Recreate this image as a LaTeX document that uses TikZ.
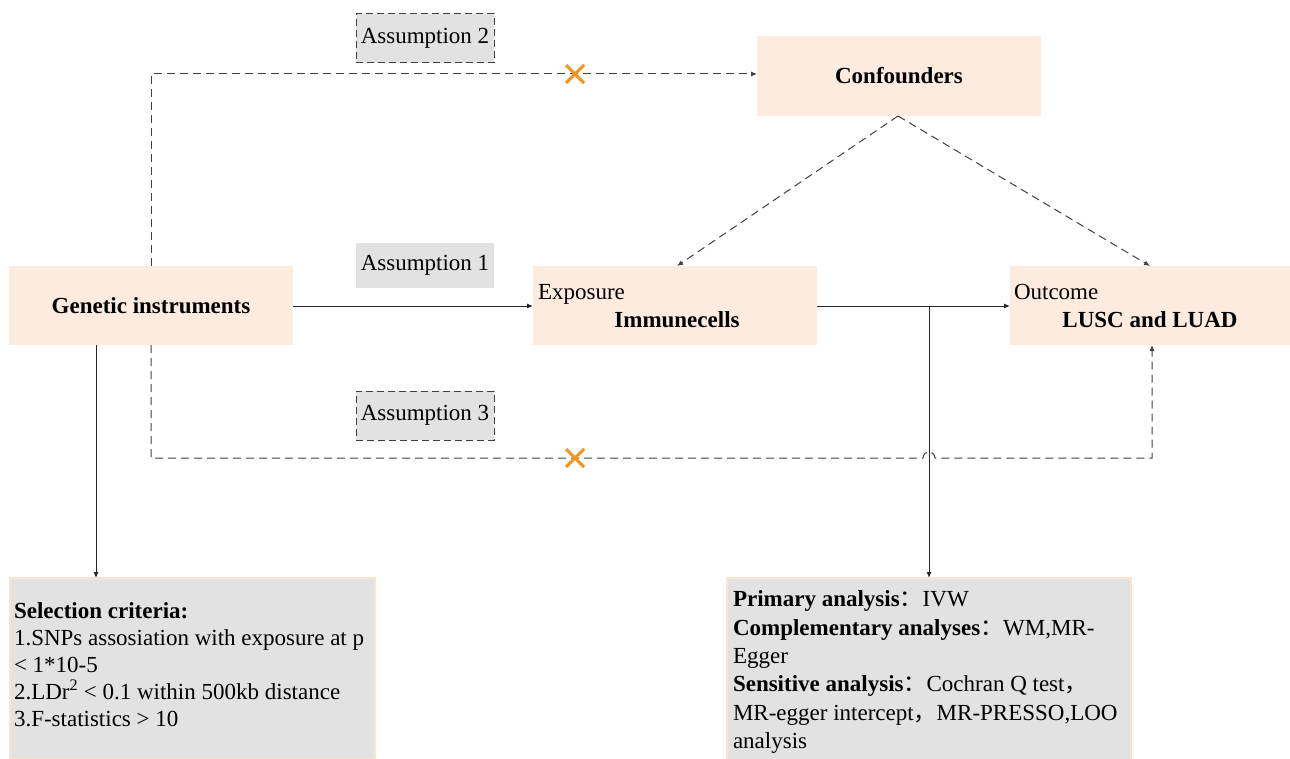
\documentclass[tikz,border=0pt]{standalone}
\usepackage{fontspec}
\setmainfont{Liberation Serif}
\newfontfamily\cjk{Noto Sans CJK SC}
\usetikzlibrary{arrows.meta}
\definecolor{peach}{HTML}{FDEBE0}
\definecolor{peachline}{HTML}{FBE3D3}
\definecolor{boxgray}{HTML}{E2E2E2}
\definecolor{dashgray}{HTML}{404040}
\definecolor{xorange}{HTML}{F7931E}
\begin{document}
\begin{tikzpicture}[x=1pt,y=-1pt,
  every node/.style={font=\fontsize{23}{26}\selectfont, inner sep=0pt, outer sep=0pt},
  peachbox/.style={fill=peach, draw=none, anchor=north west},
  assumebox/.style={fill=boxgray, anchor=north west, minimum width=138pt, minimum height=49pt},
  dashbox/.style={assumebox, draw=dashgray, line width=1pt, dash pattern=on 7pt off 4pt},
  infobox/.style={fill=boxgray, draw=peachline, line width=1.5pt, anchor=north west},
  conn/.style={draw=black!85, line width=1pt, -{Latex[length=6pt,width=5pt]}},
  dconn/.style={draw=dashgray, line width=1pt, dash pattern=on 8pt off 5pt, -{Latex[length=6pt,width=5pt]}},
  cross/.style={draw=xorange, line width=3pt}]
\useasboundingbox (0,0) rectangle (1290,759);

% main boxes
\node[peachbox, minimum width=284pt, minimum height=79pt] (gen) at (9,266) {\bfseries Genetic instruments};
\node[peachbox, minimum width=284pt, minimum height=79pt] (exp) at (533,266) {};
\node[peachbox, minimum width=280pt, minimum height=79pt] (out) at (1010,266) {};
\node[peachbox, minimum width=284pt, minimum height=80pt] (conf) at (757,36) {\bfseries Confounders};

\node[anchor=base west] (expl) at (538,299) {Exposure};
\node[anchor=base] (expt) at (677,327) {\bfseries Immunecells};
\node[anchor=base west] (outl) at (1014,299) {Outcome};
\node[anchor=base] (outt) at (1150,327) {\bfseries LUSC and LUAD};

% assumption boxes
\node[dashbox] (a2) at (356,14) {Assumption 2};
\node[assumebox, minimum height=45pt] (a1) at (356,243) {Assumption 1};
\node[dashbox] (a3) at (356,391) {Assumption 3};

% info boxes
\node[infobox, minimum width=365pt, minimum height=181pt] (sel) at (10,578) {};
\node[anchor=north west, align=left, font=\fontsize{23}{27}\selectfont] (seltext) at (14,603)
 {\textbf{Selection criteria:}\\
  1.SNPs assosiation with exposure at p\\
  {<} 1*10-5\\
  2.LDr\textsuperscript{2} {<} 0.1 within 500kb distance\\
  3.F-statistics {>} 10};
\node[infobox, minimum width=404pt, minimum height=185pt] (ana) at (727,578) {};
\node[anchor=north west, align=left, font=\fontsize{23}{28.3}\selectfont] (anatext) at (733,591)
 {\textbf{Primary analysis}{\cjk ：}IVW\\
  \textbf{Complementary analyses}{\cjk ：}WM,MR-\\
  Egger\\
  \textbf{Sensitive analysis}{\cjk ：}Cochran Q test{\cjk ，}\\
  MR-egger intercept{\cjk ，}MR-PRESSO,LOO\\
  analysis};

% coordinates
\coordinate (gtop) at (151,266);
\coordinate (gbot) at (151,345);
\coordinate (topc) at (151,74);
\coordinate (botc) at (151,458);
\coordinate (branch) at (929,306);
\coordinate (apex) at (898,116);

% solid connectors
\draw[conn] (gen.east |- 0,306) -- (exp.west |- 0,306);
\draw[conn] (exp.east |- 0,306) -- (out.west |- 0,306);
\draw[conn] (branch) -- (branch |- ana.north);
\draw[conn] (96,345) -- (96,578);

% dashed connectors
\draw[dconn] (gtop) -- (topc) -- (conf.west |- topc);
\draw[dconn] (gbot) -- (botc) -- (923,458) arc (180:360:6) -- (1152,458) -- (1152,345);
\draw[dconn] (apex) -- (677,266);
\draw[dconn] (apex) -- (1150,266);

% crosses
\draw[cross] (566,65) -- (584,83) (584,65) -- (566,83);
\draw[cross] (566,449) -- (584,467) (584,449) -- (566,467);
\end{tikzpicture}
\end{document}
